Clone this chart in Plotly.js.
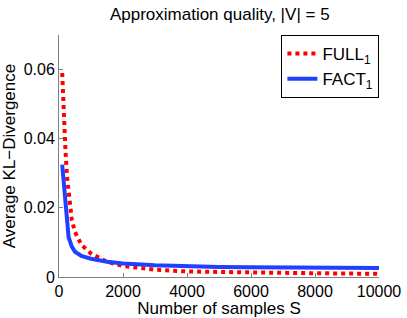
<!DOCTYPE html>
<html>
<head>
<meta charset="utf-8">
<script src="https://cdn.plot.ly/plotly-3.0.1.min.js"></script>
<style>html,body{margin:0;padding:0;background:#fff;}#chart{width:407px;height:318px;}</style>
</head>
<body>
<div id="chart"></div>
<script>
const samples = [100, 150, 200, 250, 300, 400, 500, 700, 1000, 1500, 2000, 3000, 4000, 5000, 6000, 7000, 8000, 9000, 10000];
const fullKL = [0.059, 0.046, 0.037, 0.029, 0.024, 0.0165, 0.013, 0.0093, 0.0068, 0.0044, 0.0032, 0.0021, 0.0016, 0.0014, 0.0013, 0.0012, 0.0011, 0.0010, 0.0009];
const factKL = [0.0325, 0.027, 0.0195, 0.0142, 0.0115, 0.0088, 0.0073, 0.0061, 0.0053, 0.0044, 0.0039, 0.0034, 0.0031, 0.0029, 0.0028, 0.0027, 0.0027, 0.0026, 0.0026];
const seriesNames = ['FULL<sub>1</sub>', 'FACT<sub>1</sub>'];
const xTicks = [0, 2000, 4000, 6000, 8000, 10000];
const yTicks = [0, 0.02, 0.04, 0.06];
const yTickText = ['0', '0.02', '0.04', '0.06'];

const fam = 'Liberation Sans, Arial, sans-serif';
const tickFont = {family: fam, size: 16, color: '#000'};
const titleFont = {family: fam, size: 17, color: '#000'};

const traces = [
  {x: samples, y: fullKL, name: seriesNames[0], mode: 'lines', line: {color: '#ff0000', width: 4, dash: 'dot'}},
  {x: samples, y: factKL, name: seriesNames[1], mode: 'lines', line: {color: '#2040ff', width: 4}}
];

const layout = {
  width: 407, height: 318,
  margin: {l: 59, r: 28, t: 35, b: 41},
  paper_bgcolor: '#fff', plot_bgcolor: '#fff',
  font: tickFont,
  title: {text: 'Approximation quality, |V| = 5', font: titleFont, x: 0.54, xanchor: 'center', y: 0.975, yanchor: 'top'},
  xaxis: {
    range: [0, 10000], tickvals: xTicks, ticktext: xTicks.map(String),
    showgrid: false, zeroline: false, showline: true, linecolor: '#808080', linewidth: 1,
    ticks: 'inside', ticklen: 4, tickcolor: '#808080',
    tickfont: tickFont,
    title: {text: 'Number of samples S', font: titleFont, standoff: 1}
  },
  yaxis: {
    range: [0, 0.07], tickvals: yTicks, ticktext: yTickText,
    showgrid: false, zeroline: false, showline: true, linecolor: '#808080', linewidth: 1,
    ticks: 'inside', ticklen: 4, tickcolor: '#808080',
    tickfont: tickFont,
    title: {text: 'Average KL\u2212Divergence', font: titleFont, standoff: 4}
  },
  showlegend: true,
  legend: {
    x: 0.695, xanchor: 'left', y: 1.0, yanchor: 'top',
    bgcolor: '#fff', bordercolor: '#000', borderwidth: 1,
    font: titleFont, itemwidth: 30, tracegroupgap: 0
  }
};

Plotly.newPlot('chart', traces, layout, {displayModeBar: false, staticPlot: true});
</script>
</body>
</html>
